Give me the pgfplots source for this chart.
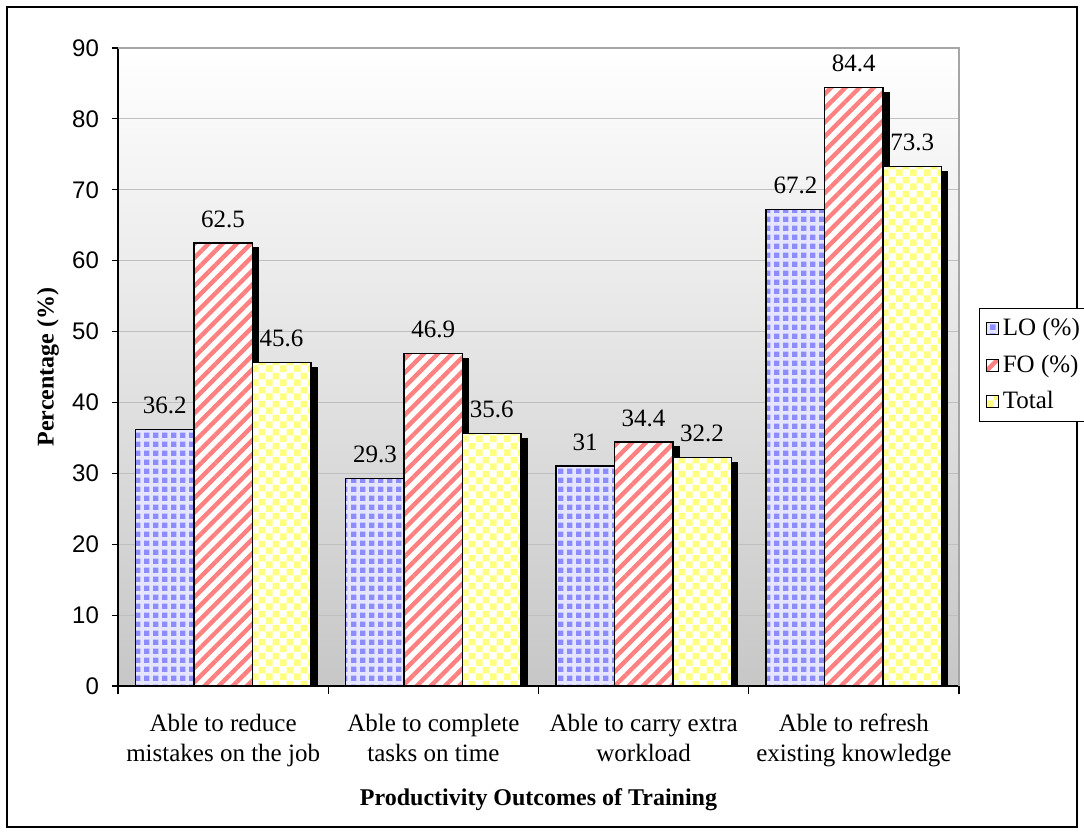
\documentclass[border=0pt]{standalone}
\usepackage{fontspec}
\setmainfont{Liberation Serif}
\newfontfamily\arial{Liberation Sans}
\usepackage{pgfplots}
\pgfplotsset{compat=1.18}
\usetikzlibrary{patterns,patterns.meta}
\definecolor{loblue}{RGB}{140,140,255}
\definecolor{fored}{RGB}{255,128,128}
\definecolor{totyel}{RGB}{255,255,128}
\pgfdeclarepatternformonly{ycheck}{\pgfpointorigin}{\pgfqpoint{7pt}{7pt}}{\pgfqpoint{7pt}{7pt}}{%
  \pgfpathrectangle{\pgfpointorigin}{\pgfqpoint{3.5pt}{3.5pt}}%
  \pgfpathrectangle{\pgfqpoint{3.5pt}{3.5pt}}{\pgfqpoint{3.5pt}{3.5pt}}%
  \pgfusepath{fill}}
\pgfdeclarepatternformonly{bplaid}{\pgfpointorigin}{\pgfqpoint{4.5pt}{4.5pt}}{\pgfqpoint{4.5pt}{4.5pt}}{%
  \pgfpathrectangle{\pgfpointorigin}{\pgfqpoint{3pt}{3pt}}%
  \pgfusepath{fill}}
\tikzset{
  lopat/.style={preaction={fill=blue!10}, pattern=bplaid, pattern color=loblue},
  fopat/.style={preaction={fill=white}, pattern={Lines[angle=45,distance=5pt,line width=2.2pt]}, pattern color=fored},
  totpat/.style={preaction={fill=white}, pattern=ycheck, pattern color=totyel},
  shadowed/.style={preaction={fill=black, transform canvas={xshift=3pt, yshift=-2.5pt}}},
}
\begin{document}
\begin{tikzpicture}
\useasboundingbox (-59pt,-74pt) rectangle (483pt,343pt);
\draw[line width=0.6pt] (-55.5pt,-70.5pt) rectangle (479.5pt,339.5pt);
\begin{axis}[
  scale only axis, width=420.5pt, height=319pt,
  xmin=-0.5, xmax=3.5, ymin=0, ymax=90,
  ytick={0,10,...,90},
  xtick={0,1,2,3},
  xticklabels={{Able to reduce\\mistakes on the job},{Able to complete\\tasks on time},{Able to carry extra\\workload},{Able to refresh\\existing knowledge}},
  xticklabel style={align=center, font=\fontsize{12.5}{15}\selectfont, yshift=-7.5pt},
  yticklabel style={font=\arial\fontsize{12}{14}\selectfont, xshift=-3pt},
  /pgf/number format/assume math mode=true,
  minor xtick={-0.5,0.5,1.5,2.5,3.5},
  major x tick style={draw=none},
  minor tick length=4pt, major tick length=3pt,
  tick align=outside, tick pos=left,
  axis x line*=bottom, axis y line*=left,
  axis line style={-, black, line width=0.6pt},
  tick style={black, line width=0.6pt},
  ymajorgrids, grid style={black!25, line width=0.5pt},
  axis background/.style={top color=white, bottom color=black!22},
  ylabel={\textbf{Percentage (\%)}},
  xlabel={\textbf{Productivity Outcomes of Training}},
  label style={font=\fontsize{12}{14}\selectfont},
  ylabel style={at={(axis description cs:-0.0832,0.5)}, anchor=center},
  xlabel style={at={(axis description cs:0.5,-0.1787)}, anchor=center},
  ybar, bar width=0.278,
  nodes near coords,
  every node near coord/.append style={font=\fontsize{12.5}{14}\selectfont, black, yshift=4pt},
  legend style={at={(1.0238,0.5925)}, anchor=north west, draw=black, line width=0.6pt,
    font=\fontsize{12.5}{14}\selectfont, row sep=4pt, inner sep=3pt,
    nodes={inner xsep=2pt}},
  legend cell align=left,
  after end axis/.code={\draw[black!35, line width=0.6pt] (rel axis cs:0,1) -- (rel axis cs:1,1) -- (rel axis cs:1,0);},
]
\addlegendimage{legend image code/.code={\draw[lopat, draw=black, line width=0.6pt] (0pt,-3pt) rectangle (6pt,3pt);}}
\addlegendentry{LO (\%)}
\addlegendimage{legend image code/.code={\draw[fopat, draw=black, line width=0.6pt] (0pt,-3pt) rectangle (6pt,3pt);}}
\addlegendentry{FO (\%)}
\addlegendimage{legend image code/.code={\draw[totpat, draw=black, line width=0.6pt] (0pt,-3pt) rectangle (6pt,3pt);}}
\addlegendentry{Total}
\addplot[forget plot, bar shift=-0.278, shadowed, lopat, draw=black, line width=0.75pt] coordinates {(0,36.2) (1,29.3) (2,31) (3,67.2)};
\addplot[forget plot, bar shift=0, shadowed, fopat, draw=black, line width=0.75pt] coordinates {(0,62.5) (1,46.9) (2,34.4) (3,84.4)};
\addplot[forget plot, bar shift=0.278, shadowed, totpat, draw=black, line width=0.75pt] coordinates {(0,45.6) (1,35.6) (2,32.2) (3,73.3)};
\end{axis}
\end{tikzpicture}
\end{document}
